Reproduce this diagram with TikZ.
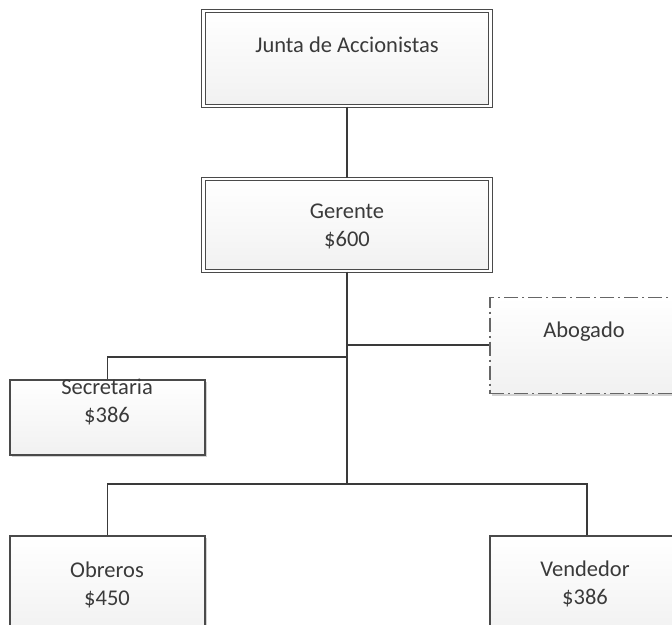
\documentclass[tikz,border=0pt]{standalone}
\usepackage{fontspec}
\setmainfont{Carlito}
\usetikzlibrary{shadows}
\definecolor{edge}{HTML}{4A4A4A}
\definecolor{ink}{HTML}{3A3A3A}

\begin{document}
\begin{tikzpicture}[x=1bp,y=-1bp,
  box/.style={rectangle,draw=edge,line width=1.5bp,top color=white,bottom color=gray!11,
    general shadow={shadow xshift=2bp,shadow yshift=-2bp,fill=gray!35},inner sep=0pt},
  dbox/.style={box,double=white,double distance=2.2bp,line width=1.1bp},
  dashbox/.style={box,draw=gray!80!black,line width=1.3bp,dash pattern=on 14bp off 4bp on 2bp off 4bp},
  txt/.style={font=\fontsize{22.5bp}{28bp}\selectfont,text=ink,align=center},
  wire/.style={draw=ink,line width=1.4bp}]
  \useasboundingbox (0,0) rectangle (672,625); \clip (0,0) rectangle (672,625);
  \node[dbox,minimum width=287bp,minimum height=95bp] (junta) at (347,58.5) {};
  \node[dbox,minimum width=287bp,minimum height=92bp] (gerente) at (347,225) {};
  \node[box,minimum width=195bp,minimum height=75bp] (secretaria) at (107.5,417.5) {};
  \node[dashbox,minimum width=194bp,minimum height=96bp] (abogado) at (587,345.5) {};
  \node[box,minimum width=195bp,minimum height=100bp] (obreros) at (107.5,586) {};
  \node[box,minimum width=194bp,minimum height=100bp] (vendedor) at (587,586) {};
  % textos
  \node[txt] (tJunta) at (347,45) {Junta de Accionistas};
  \node[txt] (tGerente) at (347,226) {Gerente\\\$600};
  \node[txt] (tSecretaria) at (107,402) {Secretaria\\\$386};
  \node[txt] (tAbogado) at (584,332) {Abogado};
  \node[txt] (tObreros) at (107,585) {Obreros\\\$450};
  \node[txt] (tVendedor) at (585,584) {Vendedor\\\$386};
  % conectores
  \coordinate (jAbo) at (347,345); \coordinate (jSec) at (347,357); \coordinate (bus) at (347,484);
  \draw[wire] (junta.south) -- (gerente.north);
  \draw[wire] (gerente.south) -- (bus);
  \draw[wire] (jAbo) -- (jAbo -| abogado.west);
  \draw[wire] (jSec) -| (secretaria.north);
  \draw[wire] (obreros.north) |- (bus) -| (vendedor.north);
\end{tikzpicture}
\end{document}
